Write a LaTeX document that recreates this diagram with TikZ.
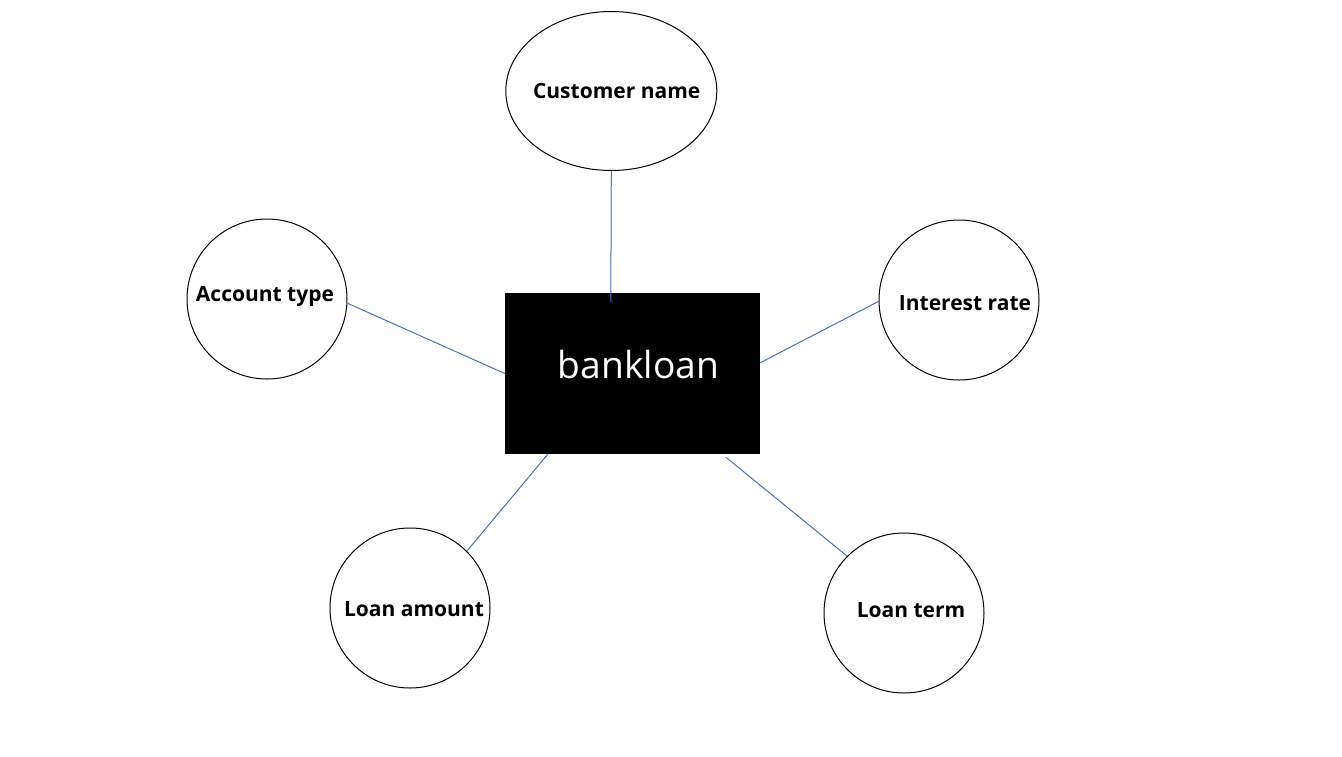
\documentclass[tikz,border=0pt]{standalone}
\usepackage{fontspec}
\setmainfont{Open Sans}
\newfontfamily\labelfont{Open Sans Bold}
\usetikzlibrary{shapes.geometric,calc}
\definecolor{linkblue}{HTML}{4472C4}
\tikzset{
  attr/.style={circle,draw=black,line width=1pt,minimum size=160pt,inner sep=0pt},
  attrtext/.style={anchor=base,inner sep=0pt,font=\labelfont\fontsize{21}{25}\selectfont},
  link/.style={draw=linkblue,line width=1pt},
}
\begin{document}
\begin{tikzpicture}[x=1pt,y=-1pt]
\useasboundingbox (0,0) rectangle (1342,756);
\fill[white] (0,0) rectangle (1342,756);
% entity
\node[fill=black,minimum width=255pt,minimum height=161pt,inner sep=0pt] (rect) at (632.5,373.5) {};
\node[anchor=base,inner sep=0pt,text=white,font=\fontsize{37.2}{41}\selectfont] (rtext) at (638.5,378) {bankloan};
% attributes
\node[ellipse,draw=black,line width=1pt,minimum width=211pt,minimum height=159pt,inner sep=0pt] (cust) at (611.3,91) {};
\node[attrtext] (custt) at (616.7,98.5) {Customer name};
\node[attr] (acct) at (267,299) {};
\node[attrtext] (acctt) at (265,301) {Account type};
\node[attr] (intr) at (959,300) {};
\node[attrtext] (intrt) at (965,310.7) {Interest rate};
\node[attr] (lamt) at (410,608) {};
\node[attrtext] (lamtt) at (414,616) {Loan amount};
\node[attr] (lterm) at (904,613) {};
\node[attrtext] (ltermt) at (911,617) {Loan term};
% connectors
\draw[link] (cust.south) -- ($(rect.north west)+(106,9)$);
\draw[link] (acct.-3) -- (rect.west);
\draw[link] (intr.181) -- ($(rect.north east)+(0,70)$);
\draw[link] (lamt.45) -- ($(rect.south west)+(43,0)$);
\draw[link] (lterm.135) -- ($(rect.south west)+(221,3)$);
\end{tikzpicture}
\end{document}
